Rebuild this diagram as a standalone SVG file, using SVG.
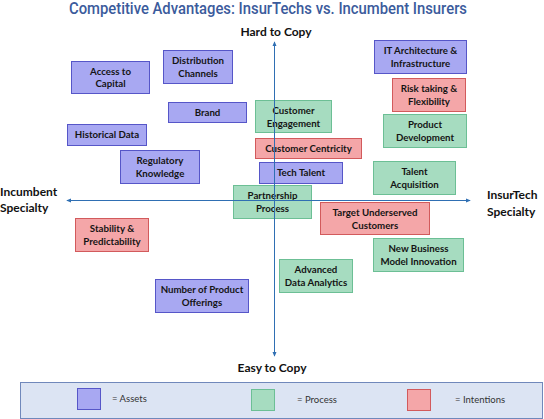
<svg xmlns="http://www.w3.org/2000/svg" width="544" height="419" viewBox="0 0 544 419">
<style>
.a{fill:#a8a8f2;stroke:#5656c8;stroke-width:1}
.p{fill:#a6dcc0;stroke:#6cbf95;stroke-width:1}
.i{fill:#f4a6a8;stroke:#d25a5c;stroke-width:1}
.t{font-family:Lato,"Liberation Sans",sans-serif;font-weight:bold;font-size:9.7px;fill:#141414;text-anchor:middle}
.ax{font-family:Lato,"Liberation Sans",sans-serif;font-weight:bold;font-size:12px;fill:#111}
.lg{font-family:Lato,"Liberation Sans",sans-serif;font-size:9.5px;fill:#333}
.axis{stroke:#2f6fb3;stroke-width:1;fill:none}
</style>
<defs>
<marker id="ah" viewBox="0 0 6 6" refX="5" refY="3" markerWidth="5" markerHeight="5" orient="auto-start-reverse" markerUnits="userSpaceOnUse">
<path d="M0,0.5 L6,3 L0,5.5 Z" fill="#2f6fb3"/>
</marker>
</defs>
<rect width="544" height="419" fill="#ffffff"/>
<text x="268" y="14" font-family="Roboto,'Liberation Sans',sans-serif" font-weight="500" font-size="16" fill="#3b5b9c" text-anchor="middle" textLength="398" lengthAdjust="spacingAndGlyphs">Competitive Advantages: InsurTechs vs. Incumbent Insurers</text>
<g id="labels">
<text class="ax" x="276" y="36" text-anchor="middle">Hard to Copy</text>
<text class="ax" x="272" y="372" text-anchor="middle">Easy to Copy</text>
<text class="ax" x="0" y="196">Incumbent</text>
<text class="ax" x="0" y="212">Specialty</text>
<text class="ax" x="487" y="199">InsurTech</text>
<text class="ax" x="487" y="216">Specialty</text>
</g>
<g id="n-access"><rect class="a" x="71.5" y="61.5" width="78" height="32"/><text class="t" x="110.5" y="74.5">Access to</text><text class="t" x="110.5" y="87">Capital</text></g>
<g id="n-distribution"><rect class="a" x="163.5" y="50.5" width="69" height="33"/><text class="t" x="198" y="63.5">Distribution</text><text class="t" x="198" y="76.5">Channels</text></g>
<g id="n-brand"><rect class="a" x="168.5" y="102.5" width="78" height="20"/><text class="t" x="207.5" y="115.5">Brand</text></g>
<g id="n-historical"><rect class="a" x="67.5" y="124.5" width="79" height="21"/><text class="t" x="107" y="138">Historical Data</text></g>
<g id="n-regulatory"><rect class="a" x="120.5" y="150.5" width="79" height="33"/><text class="t" x="160" y="163.5">Regulatory</text><text class="t" x="160" y="176.5">Knowledge</text></g>
<g id="n-it"><rect class="a" x="374.5" y="40.5" width="92" height="33"/><text class="t" x="420.5" y="53.5">IT Architecture &amp;</text><text class="t" x="420.5" y="66.5">Infrastructure</text></g>
<g id="n-risk"><rect class="i" x="392.5" y="78.5" width="73" height="33"/><text class="t" x="429" y="91.5">Risk taking &amp;</text><text class="t" x="429" y="104.5">Flexibility</text></g>
<g id="n-product"><rect class="p" x="383.5" y="114.5" width="83" height="33"/><text class="t" x="425" y="127.5">Product</text><text class="t" x="425" y="140.5">Development</text></g>
<g id="n-engagement"><rect class="p" x="255.5" y="100.5" width="76" height="32"/><text class="t" x="293.5" y="113.5">Customer</text><text class="t" x="293.5" y="126.5">Engagement</text></g>
<g id="n-centricity"><rect class="i" x="255.5" y="138.5" width="106" height="20"/><text class="t" x="308.5" y="151.5">Customer Centricity</text></g>
<g id="n-techtalent"><rect class="a" x="259.5" y="162.5" width="83" height="21"/><text class="t" x="301" y="176">Tech Talent</text></g>
<g id="n-talent"><rect class="p" x="373.5" y="161.5" width="82" height="33"/><text class="t" x="414.5" y="174.5">Talent</text><text class="t" x="414.5" y="187.5">Acquisition</text></g>
<g id="n-partnership"><rect class="p" x="233.5" y="185.5" width="78" height="33"/><text class="t" x="272.5" y="198.5">Partnership</text><text class="t" x="272.5" y="211.5">Process</text></g>
<g id="n-target"><rect class="i" x="320.5" y="202.5" width="109" height="32"/><text class="t" x="375" y="215.5">Target Underserved</text><text class="t" x="375" y="228.5">Customers</text></g>
<g id="n-stability"><rect class="i" x="75.5" y="218.5" width="73" height="33"/><text class="t" x="112" y="231.5">Stability &amp;</text><text class="t" x="112" y="244.5">Predictability</text></g>
<g id="n-newbusiness"><rect class="p" x="373.5" y="238.5" width="90" height="33"/><text class="t" x="418.5" y="251.5">New Business</text><text class="t" x="418.5" y="264.5">Model Innovation</text></g>
<g id="n-analytics"><rect class="p" x="279.5" y="259.5" width="73" height="33"/><text class="t" x="316" y="272.5">Advanced</text><text class="t" x="316" y="285.5">Data Analytics</text></g>
<g id="n-offerings"><rect class="a" x="155.5" y="279.5" width="93" height="33"/><text class="t" x="202" y="292.5">Number of Product</text><text class="t" x="202" y="305.5">Offerings</text></g>
<g id="connectors">
<line class="axis" x1="67" y1="200.5" x2="470" y2="200.5" marker-start="url(#ah)" marker-end="url(#ah)"/>
<line class="axis" x1="274.5" y1="42" x2="274.5" y2="356" marker-start="url(#ah)" marker-end="url(#ah)"/>
</g>
<g id="legend">
<rect x="20.5" y="382.5" width="522" height="36" fill="#dce4f3" stroke="#7088bb" stroke-width="1"/>
<rect class="a" x="77.5" y="388.5" width="23" height="21"/>
<text class="lg" x="112" y="402">= Assets</text>
<rect class="p" x="251.5" y="389.5" width="23" height="21"/>
<text class="lg" x="297" y="403">= Process</text>
<rect class="i" x="407.5" y="389.5" width="23" height="21"/>
<text class="lg" x="455" y="403">= Intentions</text>
</g>
</svg>
